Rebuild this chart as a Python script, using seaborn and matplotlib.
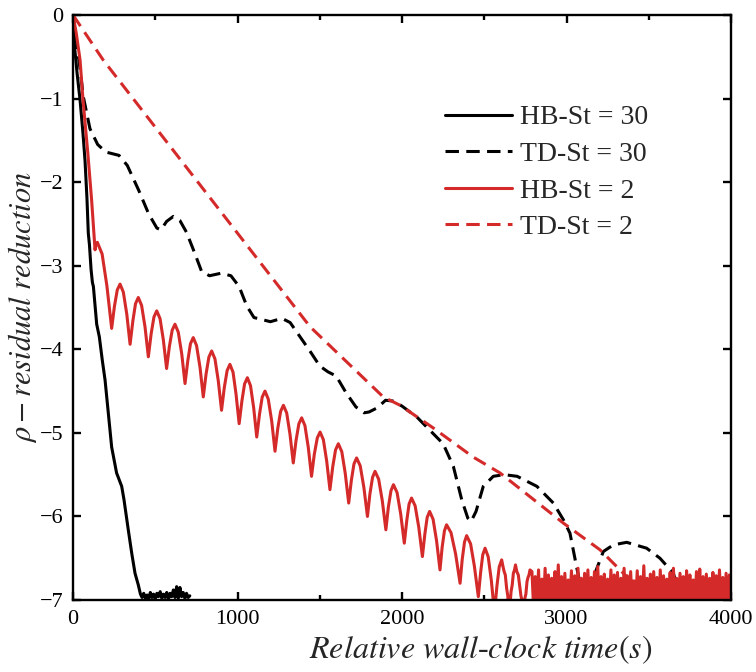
import numpy as np
import pandas as pd
import matplotlib
matplotlib.use("Agg")
import matplotlib.pyplot as plt
from matplotlib.ticker import MultipleLocator
import seaborn as sns

# ---------------- data ----------------
hb30_x = [0, 8, 25, 43, 60, 73, 85, 93, 100, 110, 118, 124, 144, 160, 178, 195, 215,
          235, 265, 296, 310, 336, 357, 377, 397, 410, 420, 430, 440, 450, 460, 470,
          480, 490, 500, 510, 520, 530, 540, 550, 560, 570, 580, 590, 600, 610, 620,
          630, 640, 650, 660, 670, 680, 690, 700, 710]
hb30_y = [0.0, -0.35, -0.70, -1.02, -1.40, -1.74, -2.20, -2.61, -2.75, -3.05, -3.20, -3.25,
          -3.70, -3.85, -4.13, -4.37, -4.77, -5.17, -5.48, -5.64, -5.80, -6.16, -6.44,
          -6.68, -6.82, -6.93, -6.97, -6.92, -6.98, -6.94, -6.99, -6.91, -6.97, -6.93,
          -6.99, -6.92, -6.96, -6.90, -6.98, -6.93, -6.97, -6.91, -6.99, -6.92, -6.96,
          -6.88, -6.97, -6.84, -6.98, -6.85, -6.96, -6.91, -6.98, -6.92, -6.97, -6.95]

td30_x = [0, 20, 40, 63, 103, 150, 200, 280, 330, 400, 460, 510, 535, 569, 610, 650, 690,
          740, 782, 830, 900, 960, 1010, 1056, 1100, 1200, 1270, 1320, 1380, 1440, 1500,
          1550, 1600, 1660, 1720, 1770, 1800, 1850, 1900, 1950, 2000, 2090, 2170, 2250,
          2312, 2363, 2400, 2420, 2450, 2494, 2555, 2620, 2700, 2820, 2920, 2981, 3021,
          3061, 3082, 3100, 3150, 3173, 3224, 3285, 3366, 3487, 3568, 3650, 3700]
td30_y = [0.0, -0.30, -0.60, -0.98, -1.36, -1.55, -1.64, -1.68, -1.80, -2.10, -2.38, -2.55,
          -2.57, -2.47, -2.41, -2.46, -2.60, -2.85, -3.07, -3.12, -3.09, -3.12, -3.25,
          -3.48, -3.62, -3.67, -3.63, -3.68, -3.85, -4.02, -4.20, -4.27, -4.32, -4.52,
          -4.69, -4.76, -4.75, -4.70, -4.61, -4.62, -4.68, -4.81, -4.97, -5.13, -5.40,
          -5.80, -6.02, -6.06, -5.94, -5.64, -5.52, -5.50, -5.52, -5.64, -5.84, -6.04,
          -6.20, -6.60, -6.80, -7.10, -7.10, -6.68, -6.42, -6.34, -6.31, -6.38, -6.50,
          -6.68, -7.05]

hb2_x = [0, 20, 43, 61, 90, 113, 134, 141, 148,
         177, 206, 235, 252, 269, 286, 306, 327, 347, 364, 380, 397,
         417, 438, 458, 475, 492, 509, 529, 549, 569, 586, 603, 620,
         640, 661, 681, 698, 714, 731, 751, 772, 792, 809, 826, 843,
         863, 883, 903, 920, 937, 954, 973, 991, 1010, 1027, 1043, 1060,
         1079, 1098, 1117, 1134, 1150, 1167, 1187, 1208, 1228, 1245, 1262, 1279,
         1299, 1319, 1339, 1356, 1373, 1390, 1410, 1430, 1450, 1467, 1485, 1502,
         1522, 1542, 1562, 1579, 1596, 1613, 1634, 1655, 1676, 1692, 1708, 1724,
         1746, 1768, 1790, 1805, 1821, 1836, 1858, 1880, 1902, 1917, 1933, 1948,
         1970, 1992, 2014, 2029, 2043, 2058, 2080, 2102, 2124, 2139, 2153, 2168,
         2189, 2210, 2231, 2244, 2258, 2271, 2298, 2326, 2353, 2366, 2380, 2393,
         2417, 2440, 2464, 2478, 2491, 2505, 2524, 2543, 2562, 2577, 2591, 2606,
         2614, 2621, 2628, 2636, 2643, 2650, 2657, 2663, 2670, 2677, 2684, 2690,
         2698, 2707, 2715, 2723, 2731, 2740, 2747, 2753, 2760, 2766, 2772, 2778]
hb2_y = [0.0, -0.22, -0.54, -1.02, -1.65, -2.21, -2.81, -2.73, -2.72,
         -2.86, -3.24, -3.75, -3.485, -3.291, -3.22, -3.316, -3.58, -3.94, -3.66, -3.455, -3.38,
         -3.475, -3.735, -4.09, -3.815, -3.614, -3.54, -3.632, -3.885, -4.23, -3.965, -3.771, -3.70,
         -3.795, -4.055, -4.41, -4.135, -3.934, -3.86, -3.955, -4.215, -4.57, -4.295, -4.094, -4.02,
         -4.115, -4.375, -4.73, -4.455, -4.254, -4.18, -4.275, -4.535, -4.89, -4.615, -4.414, -4.34,
         -4.435, -4.695, -5.05, -4.775, -4.574, -4.50, -4.596, -4.86, -5.22, -4.945, -4.744, -4.67,
         -4.762, -5.015, -5.36, -5.09, -4.892, -4.82, -4.914, -5.17, -5.52, -5.255, -5.061, -4.99,
         -5.082, -5.335, -5.68, -5.405, -5.204, -5.13, -5.225, -5.485, -5.84, -5.57, -5.372, -5.30,
         -5.394, -5.65, -6.00, -5.73, -5.532, -5.46, -5.554, -5.81, -6.16, -5.89, -5.692, -5.62,
         -5.714, -5.97, -6.32, -6.05, -5.852, -5.78, -5.874, -6.13, -6.48, -6.21, -6.012, -5.94,
         -6.034, -6.29, -6.64, -6.37, -6.172, -6.10, -6.194, -6.45, -6.80, -6.515, -6.306, -6.23,
         -6.328, -6.595, -6.96, -6.67, -6.458, -6.38, -6.483, -6.765, -7.15, -6.835, -6.604, -6.52,
         -6.60, -6.66, -6.70, -6.86, -6.95, -7.20, -7.05, -6.90, -6.82, -6.68, -6.64, -6.58,
         -6.66, -6.70, -6.82, -6.95, -7.02, -7.20, -6.98, -6.93, -6.78, -6.73, -6.70, -6.64]
# noisy floor of HB-St = 2 (x = 2790 ... 4000, every 10)
hb2_noise_y = [
    -6.66, -7.10, -6.72, -7.05, -6.64, -7.12, -6.75, -7.08, -6.62, -7.10,
    -6.70, -7.06, -6.74, -7.12, -6.66, -7.04, -6.58, -7.10, -6.72, -7.08,
    -6.68, -7.12, -6.76, -7.05, -6.65, -7.10, -6.71, -7.07, -6.62, -7.12,
    -6.74, -7.04, -6.68, -7.10, -6.64, -7.08, -6.73, -7.12, -6.66, -7.06,
    -6.60, -7.10, -6.72, -7.05, -6.69, -7.12, -6.75, -7.08, -6.64, -7.10,
    -6.70, -7.06, -6.67, -7.12, -6.74, -7.04, -6.62, -7.10, -6.71, -7.08,
    -6.66, -7.12, -6.77, -7.05, -6.65, -7.10, -6.72, -7.07, -6.59, -7.12,
    -6.74, -7.04, -6.69, -7.10, -6.66, -7.08, -6.73, -7.12, -6.64, -7.06,
    -6.71, -7.10, -6.75, -7.05, -6.67, -7.12, -6.62, -7.08, -6.74, -7.10,
    -6.68, -7.06, -6.72, -7.12, -6.65, -7.04, -6.70, -7.10, -6.76, -7.08,
    -6.66, -7.12, -6.63, -7.05, -6.72, -7.10, -6.69, -7.07, -6.74, -7.12,
    -6.67, -7.04, -6.71, -7.10, -6.64, -7.08, -6.73, -7.12, -6.68, -7.06,
    -6.70, -7.10]

td2_x = [0, 184, 1441, 1886, 1988, 2189, 2433, 2596, 2981, 3204, 3366, 3420, 3470]
td2_y = [0.0, -0.54, -3.73, -4.57, -4.67, -4.94, -5.29, -5.48, -6.08, -6.40, -6.72, -6.80, -7.05]

labels = ["HB-St = 30", "TD-St = 30", "HB-St = 2", "TD-St = 2"]
x_ticks = [0, 1000, 2000, 3000, 4000]
y_ticks = [0, -1, -2, -3, -4, -5, -6, -7]

# ---------------- style ----------------
sns.set_style("ticks")
plt.rcParams["font.family"] = ["Liberation Serif", "DejaVu Serif"]
plt.rcParams["mathtext.fontset"] = "stix"
plt.rcParams["axes.unicode_minus"] = True

BLACK = "#000000"
RED = "#D42A2A"
LW = 2.2

fig = plt.figure(figsize=(7.56, 6.72), dpi=100)
ax = fig.add_axes([73 / 756, 1 - 600 / 672, 658 / 756, 585 / 672])

hb2_full_x = list(hb2_x) + list(np.arange(2790, 4001, 10))
hb2_full_y = list(hb2_y) + hb2_noise_y

dash = (0, (4.4, 2.4))
sns.lineplot(x=hb30_x, y=hb30_y, ax=ax, color=BLACK, lw=LW, sort=False,
             estimator=None, label=labels[0])
sns.lineplot(x=td30_x, y=td30_y, ax=ax, color=BLACK, lw=LW, linestyle=dash, sort=False,
             estimator=None, label=labels[1])
sns.lineplot(x=hb2_full_x, y=hb2_full_y, ax=ax, color=RED, lw=LW, sort=False,
             estimator=None, label=labels[2])
sns.lineplot(x=td2_x, y=td2_y, ax=ax, color=RED, lw=LW, linestyle=dash, sort=False,
             estimator=None, label=labels[3])

ax.set_xlim(0, 4000)
ax.set_ylim(-7, 0)
ax.set_xticks(x_ticks)
ax.set_yticks(y_ticks)
ax.xaxis.set_minor_locator(MultipleLocator(500))
ax.tick_params(which="both", direction="in", top=True, right=True, width=1.7,
               labelsize=16, color="black", labelcolor="black")
ax.tick_params(which="major", length=6, pad=7)
ax.tick_params(which="minor", length=3.5)
for s in ax.spines.values():
    s.set_linewidth(1.7)
    s.set_color("black")

ax.set_xlabel(r"$Relative\ wall$-$clock\ time(s)$", fontsize=23)
ax.xaxis.set_label_coords(0.62, -0.058)
ax.set_ylabel(r"$\rho - residual\ reduction$", fontsize=22)
ax.yaxis.set_label_coords(-0.052, 0.5)

leg = ax.legend(loc="upper left", bbox_to_anchor=(445 / 756, 1 - 105 / 672),
                bbox_transform=fig.transFigure, frameon=False, fontsize=20,
                handlelength=2.4, handletextpad=0.3, labelspacing=0.4,
                borderpad=0, borderaxespad=0)

fig.savefig("out.png", dpi=100)
